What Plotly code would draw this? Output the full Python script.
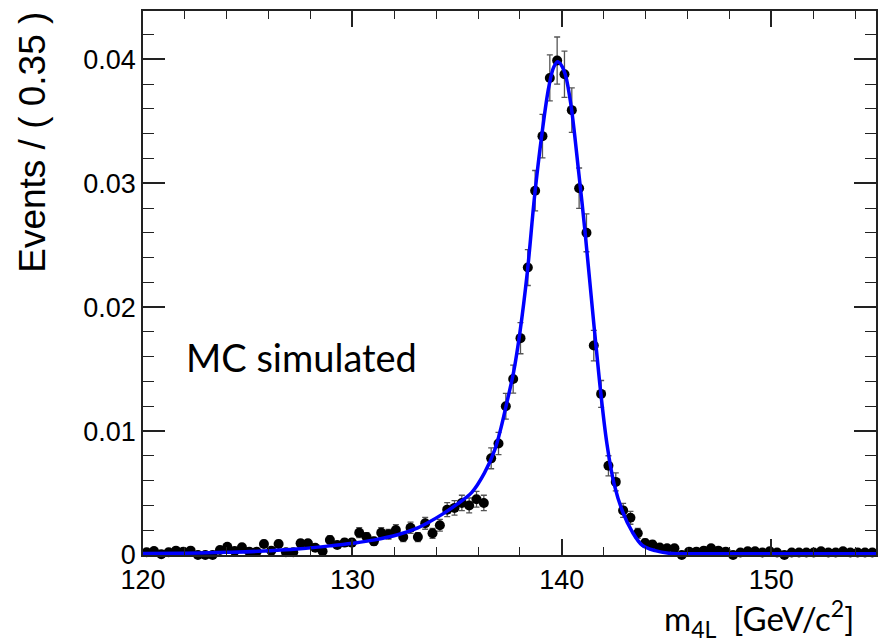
import plotly.graph_objects as go

# Binning (100 bins of 0.35 GeV from 120 to 155)
bin_low = 120.0
bin_width = 0.35
n_bins = 100
bin_centers = [round(bin_low + bin_width * (i + 0.5), 4) for i in range(n_bins)]

# MC histogram contents (Events / 0.35)
events = [
    0.00022, 0.00032, 0.00006, 0.00022, 0.00035, 0.00027, 0.00035, 0.0, 0.0, 0.0,
    0.00040, 0.00067, 0.00032, 0.00062, 0.00027, 0.00027, 0.00089, 0.00035, 0.00089, 0.00022,
    0.00022, 0.00094, 0.00094, 0.00058, 0.00030, 0.00121, 0.00081, 0.00100, 0.00100, 0.00180,
    0.00145, 0.00110, 0.00180, 0.00168, 0.00202, 0.00145, 0.00220, 0.00145, 0.00256, 0.00175,
    0.00240, 0.00366, 0.00380, 0.00420, 0.00400, 0.00450, 0.00420, 0.00780, 0.00900, 0.01200,
    0.01420, 0.01750, 0.02320, 0.02940, 0.03380, 0.03850, 0.03990, 0.03880, 0.03590, 0.02960,
    0.02600, 0.01690, 0.01300, 0.00720, 0.00590, 0.00360, 0.00300, 0.00175, 0.00097, 0.00085,
    0.00060, 0.00054, 0.00054, 0.0, 0.00027, 0.00027, 0.00035, 0.00054, 0.00035, 0.00027,
    0.0, 0.00020, 0.00030, 0.00030, 0.00020, 0.00030, 0.00020, 0.0, 0.00020, 0.00020,
    0.00020, 0.00020, 0.00030, 0.00020, 0.00020, 0.00030, 0.00020, 0.00020, 0.00020, 0.00020,
]

# Error bars
errors = [
    0.00014, 0.00017, 0.00007, 0.00014, 0.00018, 0.00016, 0.00018, 0.0, 0.0, 0.0,
    0.00019, 0.00025, 0.00017, 0.00024, 0.00016, 0.00016, 0.00028, 0.00018, 0.00028, 0.00014,
    0.00014, 0.00029, 0.00029, 0.00023, 0.00016, 0.00033, 0.00027, 0.00030, 0.00030, 0.00040,
    0.00036, 0.00032, 0.00040, 0.00039, 0.00043, 0.00036, 0.00045, 0.00036, 0.00048, 0.00040,
    0.00047, 0.00057, 0.00059, 0.00062, 0.00060, 0.00064, 0.00062, 0.00084, 0.00090, 0.00104,
    0.00113, 0.00126, 0.00145, 0.00163, 0.00175, 0.00186, 0.00190, 0.00187, 0.00180, 0.00163,
    0.00153, 0.00123, 0.00108, 0.00081, 0.00073, 0.00057, 0.00052, 0.00040, 0.00030, 0.00028,
    0.00023, 0.00022, 0.00022, 0.0, 0.00016, 0.00016, 0.00018, 0.00022, 0.00018, 0.00016,
    0.0, 0.00013, 0.00016, 0.00016, 0.00013, 0.00016, 0.00013, 0.0, 0.00013, 0.00013,
    0.00013, 0.00013, 0.00016, 0.00013, 0.00013, 0.00016, 0.00013, 0.00013, 0.00013, 0.00013,
]

# Fit curve
fit_mass = [120.0, 122.0, 124.0, 125.5, 127.5, 129.0, 130.0, 131.0, 132.2, 133.0,
            133.6, 134.3, 135.0, 135.7, 136.3, 136.8, 137.1, 137.4, 137.7, 138.0,
            138.35, 138.7, 139.05, 139.38, 139.62, 139.81, 140.1, 140.4, 140.81, 141.1,
            141.45, 141.8, 142.15, 142.5, 142.9, 143.35, 143.83, 144.46, 145.1, 147.0,
            150.0, 155.0]
fit_value = [0.00012, 0.00015, 0.00022, 0.00030, 0.00050, 0.00075, 0.00095, 0.00120, 0.00165, 0.00210,
             0.00260, 0.00330, 0.00410, 0.00505, 0.00660, 0.00850, 0.01030, 0.01250, 0.01480, 0.01800,
             0.02280, 0.02900, 0.03400, 0.03780, 0.03940, 0.03980, 0.03910, 0.03670, 0.03080, 0.02620,
             0.02000, 0.01400, 0.00900, 0.00570, 0.00350, 0.00190, 0.00080, 0.00035, 0.00015, 0.00010,
             0.00010, 0.00010]

x_range = [120, 155]
y_range = [0, 0.0439]
x_ticks = [120, 130, 140, 150]
y_ticks = [0, 0.01, 0.02, 0.03, 0.04]
y_tick_text = ["0", "0.01", "0.02", "0.03", "0.04"]

fig = go.Figure()

fig.add_trace(go.Scatter(
    x=bin_centers, y=events, mode="markers",
    marker=dict(color="black", size=10),
    error_y=dict(type="data", array=errors, visible=True, color="#555555", thickness=1.3, width=3),
    cliponaxis=False, showlegend=False,
))

fig.add_trace(go.Scatter(
    x=fit_mass, y=fit_value, mode="lines", line_shape="spline",
    line=dict(color="#0000ff", width=3.5), showlegend=False, cliponaxis=False,
))

tick_font = dict(family="Liberation Sans, Arial, sans-serif", size=27, color="black")
axis_col = "#222222"

fig.update_layout(
    width=883, height=643,
    margin=dict(l=143, r=5, t=11, b=88),
    paper_bgcolor="white", plot_bgcolor="white",
    xaxis=dict(
        range=x_range, tickmode="array", tickvals=x_ticks, ticktext=[str(t) for t in x_ticks],
        ticks="inside", ticklen=16, tickwidth=1.5, tickcolor=axis_col,
        minor=dict(tickmode="linear", tick0=120, dtick=2, ticks="inside", ticklen=8,
                   tickwidth=1.3, tickcolor=axis_col, showgrid=False),
        showline=True, linecolor=axis_col, linewidth=1.5, mirror="ticks",
        showgrid=False, zeroline=False, tickfont=tick_font,
    ),
    yaxis=dict(
        range=y_range, tickmode="array", tickvals=y_ticks, ticktext=y_tick_text,
        ticks="inside", ticklen=22, tickwidth=1.5, tickcolor=axis_col,
        minor=dict(tickmode="linear", tick0=0, dtick=0.002, ticks="inside", ticklen=11,
                   tickwidth=1.3, tickcolor=axis_col, showgrid=False),
        showline=True, linecolor=axis_col, linewidth=1.5, mirror="ticks",
        showgrid=False, zeroline=False, tickfont=tick_font,
    ),
)

plot_w = 883 - 143 - 5
plot_h = 643 - 11 - 88

def px_x(p):
    return (p - 143) / plot_w
def px_y(p):
    return (555 - p) / plot_h

fig.add_annotation(text="Events / ( 0.35 )", textangle=-90,
                   x=px_x(32), y=px_y(10), xref="paper", yref="paper",
                   showarrow=False, xanchor="center", yanchor="top",
                   font=dict(family="Liberation Sans, Arial, sans-serif", size=37, color="black"))
fig.add_annotation(text="MC simulated", x=px_x(184), y=px_y(357), xref="paper", yref="paper",
                   showarrow=False, xanchor="left", yanchor="middle",
                   font=dict(family="Lato, Open Sans, sans-serif", size=38, color="black"))
fig.add_annotation(text="m<sub>4L</sub>  [GeV/c<sup>2</sup>]", x=px_x(663), y=px_y(592),
                   xref="paper", yref="paper", showarrow=False, xanchor="left", yanchor="top",
                   font=dict(family="Lato, Open Sans, sans-serif", size=33, color="black"))

fig.write_html("out.html")
